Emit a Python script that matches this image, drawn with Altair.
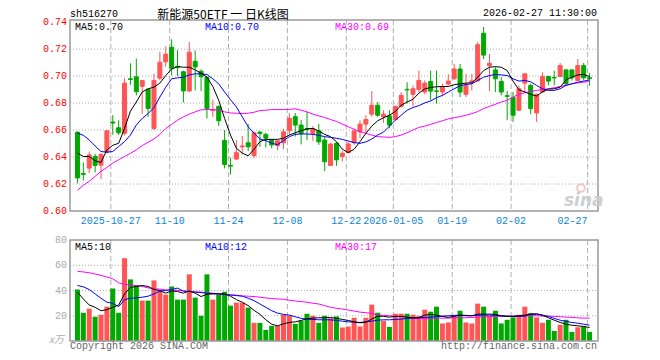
import altair as alt
import pandas as pd
import numpy as np

# ---------------- data ----------------
opens = [.6584,.6278,.6318,.6404,.6340,.6436,.6660,.6617,.6576,.6980,
         .6995,.6924,.6903,.6612,.6985,.7106,.7214,.7072,.7032,.6890,
         .7110,.7036,.6990,.6745,.6776,.6523,.6338,.6385,.6475,.6506,
         .6410,.6585,.6568,.6526,.6485,.6506,.6595,.6699,.6637,.6610,
         .6576,.6595,.6526,.6338,.6502,.6404,.6433,.6507,.6588,.6644,
         .6718,.6784,.6698,.6705,.6678,.6776,.6902,.6865,.6900,.6882,
         .6960,.6890,.6882,.6941,.6980,.7053,.6865,.6953,.6965,.7318,
         .7078,.7046,.6960,.6855,.6840,.6747,.6948,.6931,.6727,.6882,
         .6997,.6989,.6997,.7046,.7046,.6968,.7078,.6988]
highs = [.6590,.6360,.6440,.6424,.6430,.6597,.6710,.6673,.6983,.7095,
         .7130,.6970,.6906,.7017,.7180,.7222,.7273,.7192,.7040,.7253,
         .7190,.7050,.7000,.6825,.6780,.6600,.6395,.6526,.6556,.6644,
         .6590,.6590,.6580,.6535,.6525,.6610,.6725,.6726,.6674,.6735,
         .6630,.6645,.6550,.6505,.6510,.6446,.6514,.6612,.6673,.6710,
         .6889,.6808,.6747,.6747,.6780,.6882,.6955,.6931,.7041,.6968,
         .7041,.7041,.6943,.7015,.7090,.7090,.7017,.7017,.7252,.7364,
         .7164,.7066,.6992,.6889,.6882,.6931,.7017,.6943,.6870,.7029,
         .7004,.7041,.7097,.7050,.7050,.7127,.7097,.7024]
lows = [.6205,.6225,.6280,.6286,.6235,.6430,.6565,.6563,.6560,.6935,
        .6857,.6720,.6698,.6600,.6970,.7069,.7005,.7000,.6805,.6880,
        .6894,.6890,.6686,.6698,.6630,.6316,.6270,.6380,.6420,.6444,
        .6395,.6476,.6470,.6465,.6450,.6459,.6563,.6552,.6494,.6526,
        .6520,.6490,.6296,.6335,.6335,.6367,.6428,.6490,.6539,.6580,
        .6698,.6698,.6654,.6612,.6673,.6767,.6796,.6776,.6882,.6865,
        .6820,.6796,.6850,.6930,.6973,.6845,.6845,.6894,.6958,.7127,
        .6889,.6882,.6857,.6673,.6661,.6742,.6882,.6718,.6661,.6875,
        .6931,.6931,.6993,.6931,.6968,.6963,.6968,.6928]
closes = [.6245,.6272,.6416,.6338,.6418,.6595,.6652,.6580,.6948,.6975,
          .6884,.6968,.6759,.6968,.7103,.7163,.7058,.7066,.6890,.7177,
          .7068,.6995,.6760,.6750,.6669,.6345,.6333,.6432,.6482,.6476,
          .6580,.6575,.6540,.6490,.6520,.6587,.6687,.6637,.6575,.6603,
          .6610,.6513,.6365,.6497,.6379,.6428,.6497,.6593,.6644,.6678,
          .6784,.6710,.6718,.6637,.6776,.6857,.6898,.6906,.6968,.6948,
          .6889,.6887,.6919,.6963,.7053,.6882,.6931,.6965,.7233,.7156,
          .7095,.6980,.6882,.6850,.6710,.6906,.7017,.6759,.6865,.6997,
          .6963,.6987,.7078,.6943,.6987,.7078,.6987,.6982]
volumes = [40.8,22.4,25.6,19.2,20.8,27.2,41.6,22.4,65.6,48.8,
           44.0,32.0,32.0,48.0,40.0,36.8,43.2,32.8,32.8,52.8,
           34.4,20.0,52.8,32.8,36.5,39.0,28.0,30.4,30.4,26.4,
           14.4,14.4,8.8,12.0,12.0,20.8,20.0,13.6,16.0,21.6,
           20.0,14.4,20.0,18.0,19.5,10.7,11.5,18.4,11.5,18.4,
           28.8,22.4,16.0,11.2,21.6,21.6,21.6,20.8,20.0,24.8,
           23.2,27.2,13.9,14.7,20.0,24.0,14.7,13.9,29.6,27.2,
           20.0,24.0,13.9,16.8,18.7,20.8,27.2,22.1,18.7,14.4,
           16.8,8.0,12.8,16.8,7.2,10.9,11.5,7.2]
ma5 = [.6429,.6404,.6404,.6372,.6360,.6453,.6487,.6502,.6612,.6740,
       .6808,.6882,.6906,.6918,.6948,.7004,.7053,.7070,.7066,.7066,
       .7046,.7021,.6992,.6923,.6820,.6686,.6563,.6465,.6429,.6409,
       .6458,.6514,.6531,.6531,.6531,.6539,.6563,.6580,.6595,.6610,
       .6612,.6593,.6568,.6551,.6514,.6458,.6433,.6458,.6514,.6576,
       .6629,.6669,.6691,.6710,.6737,.6784,.6808,.6828,.6874,.6904,
       .6916,.6921,.6923,.6923,.6936,.6943,.6948,.6950,.6992,.7041,
       .7066,.7070,.7066,.7041,.6963,.6899,.6882,.6865,.6852,.6884,
       .6904,.6906,.6918,.6972,.6992,.7009,.7012,.6997]
ma10 = [.6578,.6561,.6527,.6482,.6441,.6436,.6441,.6478,.6514,.6563,
        .6637,.6686,.6722,.6767,.6845,.6918,.6980,.6987,.6992,.7009,
        .7017,.7017,.7012,.6980,.6943,.6882,.6825,.6772,.6698,.6625,
        .6576,.6534,.6522,.6502,.6492,.6522,.6551,.6568,.6571,.6571,
        .6568,.6561,.6551,.6546,.6539,.6531,.6519,.6507,.6502,.6512,
        .6534,.6563,.6585,.6629,.6673,.6710,.6747,.6767,.6781,.6801,
        .6816,.6840,.6857,.6882,.6906,.6928,.6938,.6943,.6968,.6992,
        .7004,.7012,.7009,.7004,.6980,.6963,.6968,.6958,.6931,.6906,
        .6894,.6894,.6906,.6931,.6943,.6955,.6963,.6972]
ma30 = [.6154,.6190,.6220,.6257,.6294,.6323,.6355,.6380,.6404,.6428,
        .6453,.6485,.6509,.6534,.6568,.6612,.6642,.6673,.6698,.6718,
        .6735,.6750,.6752,.6752,.6747,.6735,.6727,.6725,.6722,.6725,
        .6732,.6745,.6747,.6752,.6752,.6752,.6754,.6757,.6747,.6735,
        .6718,.6705,.6693,.6678,.6664,.6644,.6625,.6605,.6588,.6576,
        .6563,.6551,.6549,.6546,.6551,.6563,.6580,.6600,.6620,.6629,
        .6642,.6656,.6669,.6683,.6691,.6700,.6710,.6722,.6737,.6759,
        .6776,.6791,.6808,.6820,.6845,.6865,.6877,.6887,.6894,.6901,
        .6906,.6914,.6923,.6933,.6943,.6950,.6955,.6960]
vma5 = [38.7,33.3,28.5,26.7,24.0,24.8,26.7,28.5,37.3,42.4,
        43.2,44.0,43.2,40.8,40.0,37.9,39.7,39.2,37.9,39.7,
        37.9,35.2,37.1,37.3,37.3,37.3,35.5,32.8,30.7,28.0,
        24.3,21.1,16.8,13.3,12.0,13.6,14.7,15.2,16.3,17.6,
        18.1,18.4,18.4,18.7,17.9,17.1,16.3,15.2,14.4,14.9,
        17.3,19.7,19.5,18.9,19.5,19.5,18.9,18.4,18.4,20.5,
        21.1,20.5,19.5,18.7,19.5,20.5,20.0,20.0,21.3,21.3,
        21.3,21.1,20.0,19.5,19.5,20.0,20.5,21.3,21.6,20.5,
        18.4,16.5,14.7,13.3,12.5,12.0,11.5,10.7]
vma10 = [44.0,42.9,40.8,37.3,33.9,30.7,29.9,27.2,32.8,33.9,
         34.1,34.7,35.5,37.3,39.5,40.0,40.8,41.9,39.5,39.2,
         38.7,38.4,37.9,37.6,37.3,36.8,36.5,36.0,35.5,33.9,
         32.0,29.3,26.7,24.0,22.1,21.1,20.5,19.2,17.9,17.3,
         17.1,16.8,16.8,16.8,16.3,15.7,15.2,14.9,14.7,15.2,
         15.7,16.5,16.8,16.8,17.1,17.3,17.9,18.1,18.4,18.7,
         18.9,19.2,19.7,20.0,20.3,20.5,20.3,20.0,20.3,20.5,
         20.5,20.3,20.0,19.7,19.5,19.5,19.7,21.1,21.1,20.5,
         19.5,17.9,16.5,15.5,14.7,14.1,13.3,12.5]
vma30 = [55.2,54.7,54.1,53.1,52.0,50.7,49.3,46.1,44.8,44.5,
         44.0,43.2,42.1,41.3,41.1,40.5,40.3,40.0,39.7,39.2,
         38.9,38.7,38.1,37.9,37.3,37.1,36.5,36.3,35.7,35.5,
         35.2,34.7,34.1,33.6,33.3,33.1,32.3,31.7,31.2,30.7,
         29.9,29.3,28.0,26.7,25.9,25.3,24.5,23.7,22.9,22.4,
         21.9,20.8,20.3,20.0,19.7,19.5,18.9,18.4,17.9,17.9,
         17.9,18.1,18.1,18.1,18.4,18.4,18.4,18.7,18.9,19.2,
         19.2,19.5,19.5,19.7,19.7,20.0,20.0,20.0,20.0,19.7,
         19.7,19.5,19.2,18.9,18.7,18.4,18.1,18.1]
xtick_idx = [6, 16, 26, 36, 46, 54, 64, 74, 87]
xtick_labels = ["2025-10-27", "11-10", "11-24", "12-08", "12-22",
                "2026-01-05", "01-19", "02-02", "02-27"]
price_ticks = [0.60, 0.62, 0.64, 0.66, 0.68, 0.70, 0.72, 0.74]
vol_ticks = [20, 40, 60, 80]

# ---------------- layout / style ----------------
W, H = 528, 321          # whole plot area (price + gap + volume)
PH = 191                 # price panel height
VT = 220                 # volume panel top
MONO = "Liberation Mono"
RED, GREEN = "#ff5555", "#00a800"
GRID = "#b0b0b0"

n = len(closes)
df = pd.DataFrame({
    "idx": np.arange(n), "open": opens, "high": highs, "low": lows,
    "close": closes, "vol": volumes, "ma5": ma5, "ma10": ma10, "ma30": ma30,
    "vma5": vma5, "vma10": vma10, "vma30": vma30,
})
df["dir"] = np.where(df["close"] >= df["open"], "up", "down")

xs = alt.Scale(domain=[-5 / 12, n - 5 / 12], nice=False, zero=False)
ps = alt.Scale(domain=[0.50362, 0.7416], nice=False, zero=False)
vs = alt.Scale(domain=[0, 254.3], nice=False, zero=False)


def X(field):
    return alt.X(f"{field}:Q", scale=xs, axis=None)


def PY(field):
    return alt.Y(f"{field}:Q", scale=ps, axis=None)


def VY(field):
    return alt.Y(f"{field}:Q", scale=vs, axis=None)


cscale = alt.Scale(domain=["up", "down"], range=[RED, GREEN])
color = alt.Color("dir:N", scale=cscale, legend=None)
stroke = alt.Stroke("dir:N", scale=cscale, legend=None)
base = alt.Chart(df)

# price panel
pgrid = alt.Chart(pd.DataFrame({"v": price_ticks[1:-1]})).mark_rule(
    color=GRID, strokeDash=[1, 2]).encode(y=PY("v"), x=alt.value(0), x2=alt.value(W))
plabels = alt.Chart(pd.DataFrame({"v": price_ticks})).mark_text(
    align="right", baseline="middle", font=MONO, fontSize=10, color="#ff0000").encode(
    y=PY("v"), x=alt.value(-3), text=alt.Text("v:Q", format=".2f"))
wick = base.mark_rule(strokeWidth=1).encode(x=X("idx"), y=PY("low"), y2="high:Q", color=color)
body = base.mark_bar(size=4, strokeWidth=1).encode(
    x=X("idx"), y=PY("open"), y2="close:Q", color=color, stroke=stroke)
l5 = base.mark_line(color="#000000", strokeWidth=1).encode(x=X("idx"), y=PY("ma5"))
l10 = base.mark_line(color="#0000ff", strokeWidth=1).encode(x=X("idx"), y=PY("ma10"))
l30 = base.mark_line(color="#ff00ff", strokeWidth=1).encode(x=X("idx"), y=PY("ma30"))
price = alt.layer(pgrid, wick, body, l30, l10, l5, plabels)

# volume panel
vgrid_h = alt.Chart(pd.DataFrame({"v": vol_ticks[:-1]})).mark_rule(
    color=GRID, strokeDash=[1, 2]).encode(y=VY("v"), x=alt.value(0), x2=alt.value(W))
vlabels = alt.Chart(pd.DataFrame({"v": vol_ticks})).mark_text(
    align="right", baseline="middle", font=MONO, fontSize=10, color="#aaaaaa").encode(
    y=VY("v"), x=alt.value(-3), text=alt.Text("v:Q", format="d"))
vbars = base.mark_bar(size=5).encode(x=X("idx"), y=VY("vol"), color=color)
v5 = base.mark_line(color="#000000", strokeWidth=1).encode(x=X("idx"), y=VY("vma5"))
v10 = base.mark_line(color="#0000ff", strokeWidth=1).encode(x=X("idx"), y=VY("vma10"))
v30 = base.mark_line(color="#ff00ff", strokeWidth=1).encode(x=X("idx"), y=VY("vma30"))
volume = alt.layer(vgrid_h, vbars, v30, v10, v5, vlabels)

# vertical dashed grid + date labels
tick_df = pd.DataFrame({"i": xtick_idx, "lab": xtick_labels})
tick_base = alt.Chart(tick_df).transform_calculate(gx="datum.i - 1/3")
vg_p = tick_base.mark_rule(color=GRID, strokeDash=[5, 3]).encode(
    x=X("gx"), y=alt.value(0), y2=alt.value(PH))
vg_v = tick_base.mark_rule(color=GRID, strokeDash=[5, 3]).encode(
    x=X("gx"), y=alt.value(VT), y2=alt.value(H))
last_i = xtick_idx[-1]
xl_mid = tick_base.transform_filter(f"datum.i != {last_i}").mark_text(
    align="center", baseline="alphabetic", font=MONO, fontSize=10, color="#0a84d6").encode(
    x=X("gx"), y=alt.value(204), text="lab:N")
xl_last = tick_base.transform_filter(f"datum.i == {last_i}").mark_text(
    align="right", baseline="alphabetic", font=MONO, fontSize=10, color="#0a84d6").encode(
    x=X("gx"), y=alt.value(204), text="lab:N")

one = pd.DataFrame({"a": [0]})
frame_p = alt.Chart(one).mark_rect(fillOpacity=0, stroke="#9a9a9a", strokeWidth=1.5).encode(
    x=alt.value(0), x2=alt.value(W), y=alt.value(0), y2=alt.value(PH))
frame_v = alt.Chart(one).mark_rect(fillOpacity=0, stroke="#9a9a9a", strokeWidth=1.5).encode(
    x=alt.value(0), x2=alt.value(W), y=alt.value(VT), y2=alt.value(H))


def label(txt, x, y, color="#000000", align="left", size=10, font=MONO, **kw):
    return alt.Chart(pd.DataFrame({"t": [txt]})).mark_text(
        align=align, baseline="alphabetic", color=color, fontSize=size, font=font, **kw
    ).encode(x=alt.value(x), y=alt.value(y), text="t:N")


texts = [
    label("sh516270", 0, -3.5),
    label("新能源50ETF 一 日K线图", 153, -1.5, align="center", size=12,
          font="Noto Sans CJK SC"),
    label("2026-02-27 11:30:00", 527, -4, align="right"),
    label("MA5:0.70", 5, 9.5),
    label("MA10:0.70", 135, 9.5, color="#0000ff"),
    label("MA30:0.69", 265, 9.5, color="#ff00ff"),
    label("MA5:10", 5, 230),
    label("MA10:12", 135, 230, color="#0000ff"),
    label("MA30:17", 265, 230, color="#ff00ff"),
    label("x万", -6, 323, color="#aaaaaa", align="right", fontStyle="italic",
          font="Noto Sans CJK SC"),
    label("Copyright 2026 SINA.COM", 0, 329, color="#666666"),
    label("http://finance.sina.com.cn", 527, 329, color="#666666", align="right"),
    label("sina", 494, 186, color="#cfcfcf", size=17, font="DejaVu Sans",
          fontStyle="italic", fontWeight="bold"),
]
eye = alt.Chart(one).mark_point(shape="circle", filled=False, color="#f2b0b0",
                                strokeWidth=2, size=60).encode(
    x=alt.value(511), y=alt.value(168))

chart = alt.layer(
    vg_p, vg_v, price, volume, frame_p, frame_v, xl_mid, xl_last, eye, *texts
).resolve_scale(y="independent").properties(
    width=W, height=H,
    autosize=alt.AutoSizeParams(type="none"),
    padding={"left": 62, "top": 12, "right": 44, "bottom": 12},
).configure_view(strokeWidth=0)

chart.save("out.html", embed_options={"renderer": "svg", "actions": False})
